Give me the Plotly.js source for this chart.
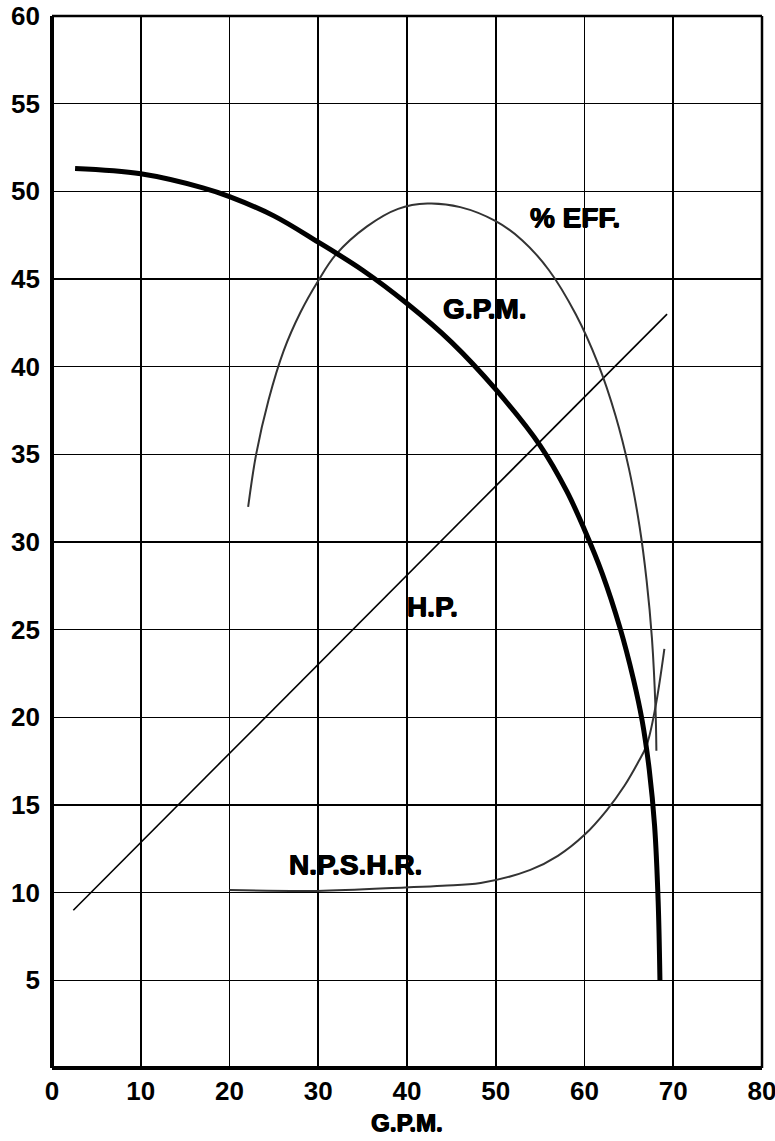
<!DOCTYPE html>
<html>
<head>
<meta charset="utf-8">
<script src="https://cdn.plot.ly/plotly-3.0.1.min.js"></script>
<style>html,body{margin:0;padding:0;background:#fff;}#chart{width:775px;height:1141px;}</style>
</head>
<body>
<div id="chart"></div>
<script>
// Pump performance curves
const gpmX = [2.6, 10, 17, 20, 25, 30, 35, 40, 45, 50, 55, 58, 60, 62, 64, 65.5, 66.5, 67.3, 67.9, 68.3, 68.5];
const gpmY = [51.3, 51.0, 50.2, 49.7, 48.6, 47.1, 45.5, 43.6, 41.4, 38.7, 35.5, 32.9, 30.7, 28.2, 25.1, 22.2, 19.8, 17.0, 13.8, 9.5, 5.0];

const effX = [22.1, 23.0, 24.4, 26.1, 28, 30.0, 32, 35.5, 39, 42.3, 46, 50, 53, 56, 59, 61.5, 63.5, 65, 66.2, 67, 67.6, 68.0, 68.1];
const effY = [32.0, 35.0, 38.1, 40.9, 43.1, 44.9, 46.4, 48.0, 49.0, 49.3, 49.1, 48.3, 47.2, 45.5, 43.0, 40.2, 37.2, 34.2, 30.9, 27.8, 24.5, 20.5, 18.1];

const npshrX = [20, 29.9, 39.8, 44, 48.3, 53.9, 57, 60, 62.5, 64.5, 66, 67, 68, 69.0];
const npshrY = [10.15, 10.1, 10.3, 10.4, 10.55, 11.3, 12.1, 13.3, 14.7, 16.1, 17.4, 18.4, 20.6, 23.9];

const hpX = [2.4, 69.3];
const hpY = [9.0, 43.0];

const xTicks = [0, 10, 20, 30, 40, 50, 60, 70, 80];
const yTicks = [5, 10, 15, 20, 25, 30, 35, 40, 45, 50, 55, 60];

const curveLabels = [
  {text: '% EFF.', x: 58.95, y: 48.5},
  {text: 'G.P.M.', x: 48.8, y: 43.3},
  {text: 'H.P.', x: 42.85, y: 26.3},
  {text: 'N.P.S.H.R.', x: 34.2, y: 11.6}
];

const FONT = 'Arial';
const HEAVY = '0.6px 0 0 #000, -0.6px 0 0 #000, 0 0.5px 0 #000';

const traces = [
  {x: hpX, y: hpY, mode: 'lines', line: {color: '#000', width: 1.6}, hoverinfo: 'skip'},
  {x: effX, y: effY, mode: 'lines', line: {color: '#333', width: 2, shape: 'spline', smoothing: 1}, hoverinfo: 'skip'},
  {x: npshrX, y: npshrY, mode: 'lines', line: {color: '#333', width: 2, shape: 'spline', smoothing: 1}, hoverinfo: 'skip'},
  {x: gpmX, y: gpmY, mode: 'lines', line: {color: '#000', width: 5, shape: 'spline', smoothing: 1}, hoverinfo: 'skip'}
];

const tickFont = {family: FONT, size: 26, color: '#000', weight: 700};
const heavyFont = size => ({family: FONT, size: size, color: '#000', weight: 700, shadow: HEAVY});

const layout = {
  width: 775, height: 1141,
  margin: {l: 52, r: 13, t: 16, b: 73},
  paper_bgcolor: '#fff', plot_bgcolor: '#fff',
  showlegend: false,
  font: {family: FONT, color: '#000', weight: 700},
  xaxis: {
    range: [0, 80], tickvals: xTicks, ticktext: xTicks.map(String),
    showgrid: true, gridcolor: '#000', gridwidth: 1.6,
    zeroline: false, showline: false, ticks: '',
    tickfont: tickFont,
    ticklabelstandoff: 5, ticklabeloverflow: 'allow',
    title: {text: 'G.P.M.', font: heavyFont(24), standoff: 9}
  },
  yaxis: {
    range: [0, 60], tickvals: yTicks, ticktext: yTicks.map(String),
    showgrid: true, gridcolor: '#000', gridwidth: 1.6,
    zeroline: false, showline: false, ticks: '',
    tickfont: tickFont,
    ticklabelstandoff: 11, ticklabeloverflow: 'allow'
  },
  shapes: [
    {type: 'line', xref: 'paper', yref: 'paper', x0: 0, x1: 0, y0: 0, y1: 1, line: {color: '#000', width: 4}},
    {type: 'line', xref: 'paper', yref: 'paper', x0: 0, x1: 1, y0: 0, y1: 0, line: {color: '#000', width: 4}},
    {type: 'line', xref: 'paper', yref: 'paper', x0: 0, x1: 1, y0: 1, y1: 1, line: {color: '#000', width: 2.5}},
    {type: 'line', xref: 'paper', yref: 'paper', x0: 1, x1: 1, y0: 0, y1: 1, line: {color: '#000', width: 2.5}}
  ],
  annotations: curveLabels.map(l => ({
    x: l.x, y: l.y, xref: 'x', yref: 'y', text: l.text, showarrow: false,
    xanchor: 'center', yanchor: 'middle',
    font: heavyFont(28)
  }))
};

Plotly.newPlot('chart', traces, layout, {staticPlot: true, displayModeBar: false});
</script>
</body>
</html>
